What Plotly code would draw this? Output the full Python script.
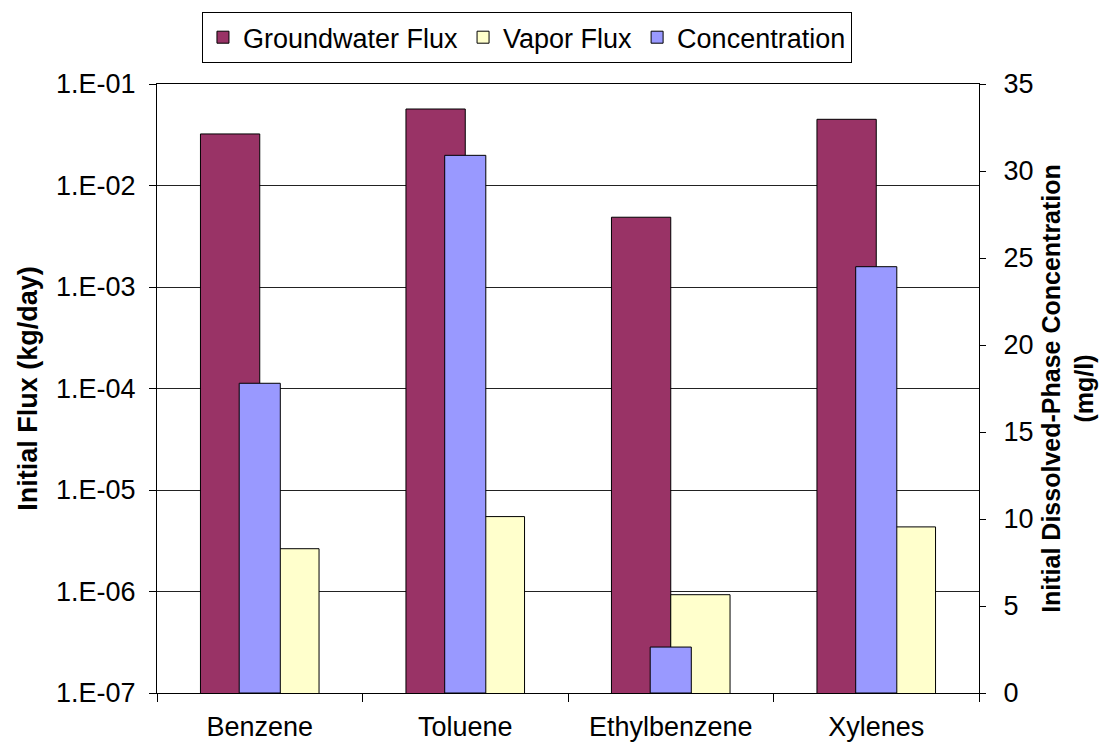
import plotly.graph_objects as go

categories = ["Benzene", "Toluene", "Ethylbenzene", "Xylenes"]
groundwater_flux = [0.0322, 0.0567, 0.00487, 0.0449]
vapor_flux = [2.64e-6, 5.47e-6, 9.3e-7, 4.33e-6]
concentration = [17.8, 30.9, 2.64, 24.5]

left_tickvals = [1e-1, 1e-2, 1e-3, 1e-4, 1e-5, 1e-6, 1e-7]
left_ticktext = ["1.E-01", "1.E-02", "1.E-03", "1.E-04", "1.E-05", "1.E-06", "1.E-07"]
right_tickvals = [0, 5, 10, 15, 20, 25, 30, 35]

FONT = "Liberation Sans, Arial, sans-serif"
FS = 27
line = dict(color="black", width=1)

fig = go.Figure()
fig.add_trace(go.Bar(
    x=categories, y=groundwater_flux, name="Groundwater Flux",
    marker=dict(color="#993366", line=line),
    width=0.2885, offset=-0.2885, yaxis="y",
))
fig.add_trace(go.Bar(
    x=categories, y=vapor_flux, name="Vapor Flux",
    marker=dict(color="#FFFFCC", line=line),
    width=0.2885, offset=0.0, yaxis="y",
))
fig.add_trace(go.Bar(
    x=categories, y=concentration, name="Concentration",
    marker=dict(color="#9999FF", line=line),
    width=0.2, offset=-0.1, yaxis="y2",
))

fig.update_layout(
    template="none",
    width=1100, height=739,
    paper_bgcolor="white", plot_bgcolor="white",
    margin=dict(l=149, r=129, t=76, b=54, autoexpand=False),
    barmode="overlay",
    font=dict(family=FONT, size=FS, color="black"),
    showlegend=True,
    legend=dict(
        orientation="h", x=0.0547, y=1.118, xanchor="left", yanchor="top",
        bordercolor="black", borderwidth=1, bgcolor="white",
        font=dict(family=FONT, size=FS, color="black"),
        itemwidth=30, traceorder="normal",
    ),
    xaxis=dict(
        type="category", showgrid=False, showline=True, linecolor="black", linewidth=1,
        mirror=True, ticks="outside", tickson="boundaries", ticklen=8, tickcolor="black",
        ticklabelstandoff=10, tickfont=dict(size=FS), automargin=False,
    ),
    yaxis=dict(
        type="log", range=[-7, -1], tickvals=left_tickvals, ticktext=left_ticktext,
        showgrid=True, gridcolor="#222", gridwidth=1,
        showline=True, linecolor="black", linewidth=1,
        ticks="outside", ticklen=7, tickcolor="black", ticklabelstandoff=8,
        title=dict(text="<b>Initial Flux (kg/day)</b>", font=dict(size=FS), standoff=10),
        zeroline=False, automargin=False,
    ),
    yaxis2=dict(
        overlaying="y", side="right", range=[0, 35], tickvals=right_tickvals,
        showgrid=False, showline=True, linecolor="black", linewidth=1,
        ticks="outside", ticklen=6, tickcolor="black", ticklabelstandoff=12,
        title=dict(text="<b>Initial Dissolved-Phase Concentration<br>(mg/l)</b>",
                   font=dict(size=25), standoff=10),
        zeroline=False, automargin=False,
    ),
)

fig.write_html("out.html")
